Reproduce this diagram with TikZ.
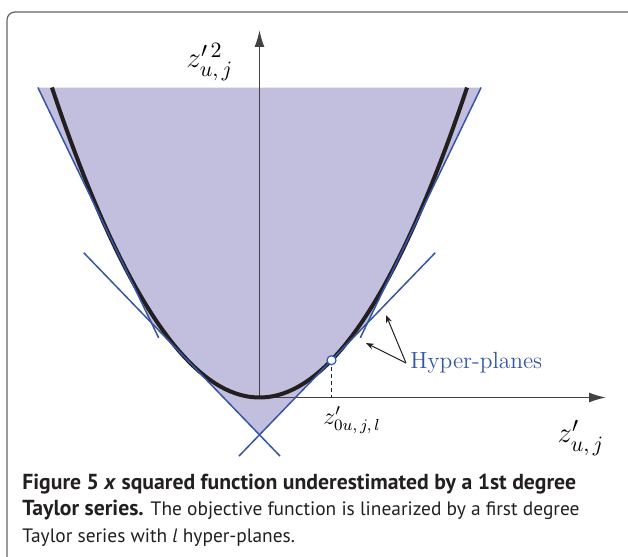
\documentclass[tikz,border=0pt]{standalone}
\usepackage{amsmath,amssymb}
\usepackage{fontspec}
\newfontfamily\capfont{PT Sans}
\usepackage{tikz}
\usetikzlibrary{arrows.meta,calc,positioning}
\definecolor{hpblue}{RGB}{52,86,168}
\definecolor{hullfill}{RGB}{193,190,222}
\definecolor{ink}{RGB}{35,31,32}
\newcommand{\capbf}[1]{{\fontsize{10.85}{13}\selectfont\bfseries #1}}

\begin{document}
\begin{tikzpicture}[x=36pt,y=18.65pt,
    axisline/.style={draw=ink!85, line width=.8pt, -{Latex[length=8.5pt,width=5pt]}},
    plane/.style={draw=hpblue, line width=.75pt},
    parab/.style={draw=ink, line width=2pt},
    hparrow/.style={draw=ink, line width=.5pt, -{Stealth[length=4pt,width=3pt]}},
    captext/.style={font=\capfont\fontsize{9.7}{12}\selectfont, text=ink, inner sep=0pt, anchor=base west}]
  \clip (-3.604,-4.249) rectangle (5.118,10.657);
  \useasboundingbox (-3.604,-4.249) rectangle (5.118,10.657);
  \draw[ink!70, line width=.6pt, rounded corners=4pt] (-3.507,-6) rectangle (6,10.335);
  % region above the planes
  \fill[hullfill] (-3.078,8.311) -- (-1.5,2) -- (0,-1) -- (1.5,2) -- (3.078,8.311) -- cycle;
  \draw[axisline] (0,0) -- (0,9.853);
  \draw[axisline] (0,0) -- (4.8125,0);
  \draw[parab] plot[domain=-2.883:2.883, samples=80] (\x,{\x*\x});
  % hyper-planes
  \draw[plane] (-3.078,8.311) -- (-1.4,1.6);
  \draw[plane] (3.078,8.311) -- (1.4,1.6);
  \draw[plane] (-2.44,3.88) -- (0.285,-1.57);
  \draw[plane] (2.44,3.88) -- (-0.285,-1.57);
  \draw[ink, line width=.6pt, dash pattern=on 2pt off 1.5pt] (1,1) -- (1,0);
  \node[circle, draw=hpblue, line width=.6pt, fill=white, inner sep=0pt, minimum size=4.5pt] (tp) at (1,1) {};
  \node[font=\fontsize{15}{18}\selectfont] (ylab) at (-0.6875,8.995) {$z^{\prime\,2}_{u,\,j}$};
  \node[font=\fontsize{15}{18}\selectfont] (xlab) at (4.465,-1.09) {$z'_{u,\,j}$};
  \node[font=\fontsize{11.6}{14}\selectfont] (x0lab) at (1.285,-0.603) {$z'_{0u,\,j,\,l}$};
  \node[font=\fontsize{11.7}{14}\selectfont, text=hpblue, anchor=west, inner sep=2pt] (hp) at (2.035,0.925) {Hyper-planes};
  \coordinate (pa) at (1.479,1.461);
  \coordinate (pb) at (1.757,2.212);
  \draw[hparrow] (hp.west) -- (pa);
  \draw[hparrow] (hp.west) -- (pb);
  % caption
  \node[captext] (cap1) at (-3.299,-2.470) {\capbf{Figure 5 \textit{x} squared function underestimated by a 1st degree}};
  \node[captext] (cap2) at (-3.299,-3.170) {\capbf{Taylor series.} The objective function is linearized by a first degree};
  \node[captext] (cap3) at (-3.299,-3.890) {Taylor series with \textit{l} hyper-planes.};
\end{tikzpicture}
\end{document}
